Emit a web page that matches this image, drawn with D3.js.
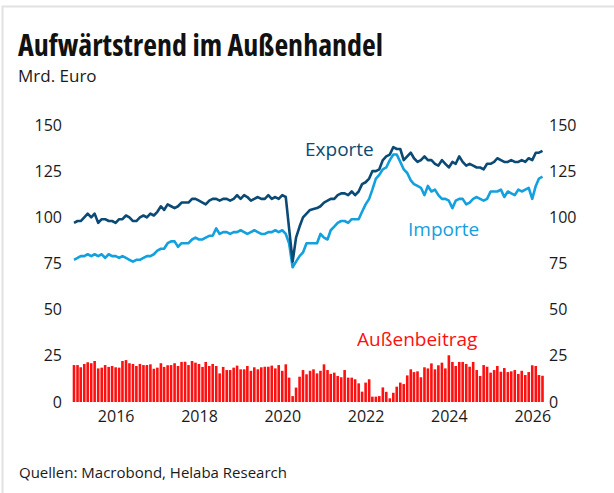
<!DOCTYPE html>
<html lang="de">
<head>
<meta charset="UTF-8">
<title>Aufwärtstrend im Außenhandel</title>
<script src="https://cdn.jsdelivr.net/npm/d3@7"></script>
<style>
  body { margin: 0; background: #fff; }
  svg text { font-family: "Open Sans", sans-serif; }
</style>
</head>
<body>
<div id="chart"></div>
<script>
// monthly values, Jan 2015 .. Apr 2026 (Mrd. Euro)
var exporte = [
  97, 98, 98, 100, 102, 100, 102, 97, 99, 99,
  98, 98, 97, 99, 99, 101, 100, 98, 98, 100,
  101, 100, 102, 101, 103, 106, 104, 107, 106, 105,
  106, 108, 108, 108, 110, 110, 109, 108, 107, 109,
  110, 110, 109, 110, 110, 109, 110, 112, 110, 112,
  111, 109, 110, 111, 110, 110, 112, 110, 111, 110,
  112, 111, 94, 76, 89, 95, 100, 102, 104, 104.5,
  105, 106, 108, 109, 110, 110, 112, 113, 113, 112,
  114, 112, 114, 118, 119, 121, 125, 125, 126, 131,
  133, 134, 138, 137, 137, 131, 133, 135, 132, 130,
  131, 133, 131, 131, 129, 128, 131, 129, 127, 130,
  129, 133, 130, 128, 129, 128, 127, 127, 126, 129,
  129, 130, 132, 131, 130, 130, 131, 130, 130, 131,
  130, 132, 131, 135, 135, 136
];
var importe = [
  77, 78, 79, 79, 80, 79, 80, 79, 80, 78,
  80, 79, 79, 78, 79, 78, 77, 76, 77, 77,
  78, 79, 79, 80, 82, 83, 83, 86, 87, 87,
  84, 86, 86, 86, 88, 89, 88, 88, 89, 90,
  90, 94, 91, 92, 92, 91, 92, 92, 93, 92,
  91, 92, 93, 92, 91, 91, 92, 92, 93, 92,
  93, 91, 86, 73, 76, 79, 81, 86, 86, 86,
  86, 91, 89, 88, 93, 95, 97, 98, 98, 97,
  99, 99, 99, 103, 107, 110, 115, 121, 123, 126,
  127, 131, 134, 134, 130, 126, 124, 120, 118, 117,
  116, 112, 117, 114, 115, 112, 110, 110, 109, 105,
  109, 110, 110, 107, 108, 110, 111, 110, 109, 110,
  114, 114, 114, 115, 111, 114, 113, 112, 115, 114,
  115, 116, 110, 117, 121, 122
];
var aussenbeitrag = [
  20, 20, 18.8, 20.6, 21.5, 21, 22.2, 18.2, 18.6, 20,
  19, 19.5, 18.8, 18.6, 22.2, 22.7, 21, 20.6, 19.5, 20.6,
  20, 20, 20.4, 18, 18.6, 21, 19, 19.9, 20, 21,
  19.5, 21.7, 21.8, 20, 22.2, 21.3, 20.6, 19, 21.7, 19.5,
  20.6, 19.5, 15.5, 19, 17.3, 17.3, 18.6, 19.7, 17.7, 17.7,
  19.5, 16.9, 18.8, 17.7, 18.8, 19.1, 19.1, 19.7, 18.2, 20,
  16.9, 20.4, 13.2, 3.2, 7.8, 13.7, 17.3, 15, 16.9, 17.7,
  15.5, 16.9, 20.4, 17.3, 15.2, 15.9, 14.1, 13.4, 17.3, 13.2,
  13.2, 12.3, 10.1, 5.6, 10.5, 12.3, 2.9, 2.9, 3.2, 7.9,
  5.5, 2, 5, 8.3, 10.5, 9.7, 14.4, 17.7, 16.2, 16.6,
  13.4, 18.8, 18.2, 20.9, 17.7, 19.9, 21.3, 18.2, 25.3, 21.7,
  19.5, 21.7, 21.7, 20.6, 19.1, 21.7, 17.3, 14.1, 20, 19.1,
  15.9, 17.3, 19.5, 16.4, 18.4, 16.2, 16.6, 17.3, 15.2, 16.9,
  14.6, 16.2, 19.9, 19.5, 14.6, 14.2
];
var monate = d3.timeMonths(new Date(2015, 0, 1), new Date(2026, 4, 1));
var yTicks = [0, 25, 50, 75, 100, 125, 150];
var xTickJahre = [2016, 2018, 2020, 2022, 2024, 2026];

var width = 614, height = 493;
var cExport = "#0b4a74", cImport = "#12a0de", cSaldo = "#ff1010";

var svg = d3.select("#chart")
  .append("svg")
    .attr("width", width)
    .attr("height", height);

// light card border (top + left)
svg.append("path")
  .attr("d", "M2.5," + height + "V6.5H" + width)
  .attr("fill", "none")
  .attr("stroke", "#e2e2e2")
  .attr("stroke-width", 2);

var x = d3.scaleTime()
  .domain([monate[0], monate[monate.length - 1]])
  .range([74, 542.5]);
var y = d3.scaleLinear()
  .domain([0, 150])
  .range([402, 125]);

// bars: Außenbeitrag
svg.append("g")
  .selectAll("rect")
  .data(aussenbeitrag)
  .enter()
  .append("rect")
    .attr("x", function(d, i) { return x(monate[i]) - 1.3; })
    .attr("width", 2.6)
    .attr("y", function(d) { return y(d); })
    .attr("height", function(d) { return y(0) - y(d); })
    .attr("fill", cSaldo);

var line = d3.line()
  .x(function(d, i) { return x(monate[i]); })
  .y(function(d) { return y(d); });

svg.append("path")
  .datum(importe)
  .attr("d", line)
  .attr("fill", "none")
  .attr("stroke", cImport)
  .attr("stroke-width", 2.6)
  .attr("stroke-linejoin", "round");

svg.append("path")
  .datum(exporte)
  .attr("d", line)
  .attr("fill", "none")
  .attr("stroke", cExport)
  .attr("stroke-width", 2.6)
  .attr("stroke-linejoin", "round");

// axes
function styleAxis(g) {
  g.select(".domain").remove();
  g.attr("font-family", "Open Sans, sans-serif").attr("font-size", 16);
  g.selectAll("text").attr("fill", "#1a1a1a");
}
svg.append("g")
  .attr("transform", "translate(70,0)")
  .call(d3.axisLeft(y).tickValues(yTicks).tickSize(0).tickPadding(8))
  .call(styleAxis);
svg.append("g")
  .attr("transform", "translate(547,0)")
  .call(d3.axisRight(y).tickValues(yTicks).tickSize(0).tickPadding(2))
  .call(styleAxis);
svg.append("g")
  .attr("transform", "translate(0,402)")
  .call(d3.axisBottom(x)
    .tickValues(xTickJahre.map(function(j) { return new Date(j, 0, 1); }))
    .tickFormat(d3.timeFormat("%Y"))
    .tickSize(0).tickPadding(9))
  .call(styleAxis);

// texts
svg.append("text")
  .attr("x", 18).attr("y", 56)
  .attr("font-size", 30).attr("font-weight", 700)
  .style("font-stretch", "78%")
  .attr("fill", "#111")
  .text("Aufwärtstrend im Außenhandel");
svg.append("text")
  .attr("x", 18).attr("y", 82)
  .attr("font-size", 17).attr("fill", "#1a1a1a")
  .text("Mrd. Euro");
svg.append("text")
  .attr("x", 305).attr("y", 156)
  .attr("font-size", 19).attr("fill", cExport)
  .text("Exporte");
svg.append("text")
  .attr("x", 408).attr("y", 236)
  .attr("font-size", 19).attr("fill", cImport)
  .text("Importe");
svg.append("text")
  .attr("x", 357).attr("y", 346)
  .attr("font-size", 19).attr("fill", cSaldo)
  .text("Außenbeitrag");
svg.append("text")
  .attr("x", 19).attr("y", 478)
  .attr("font-size", 15).attr("fill", "#1a1a1a")
  .text("Quellen: Macrobond, Helaba Research");
</script>
</body>
</html>
